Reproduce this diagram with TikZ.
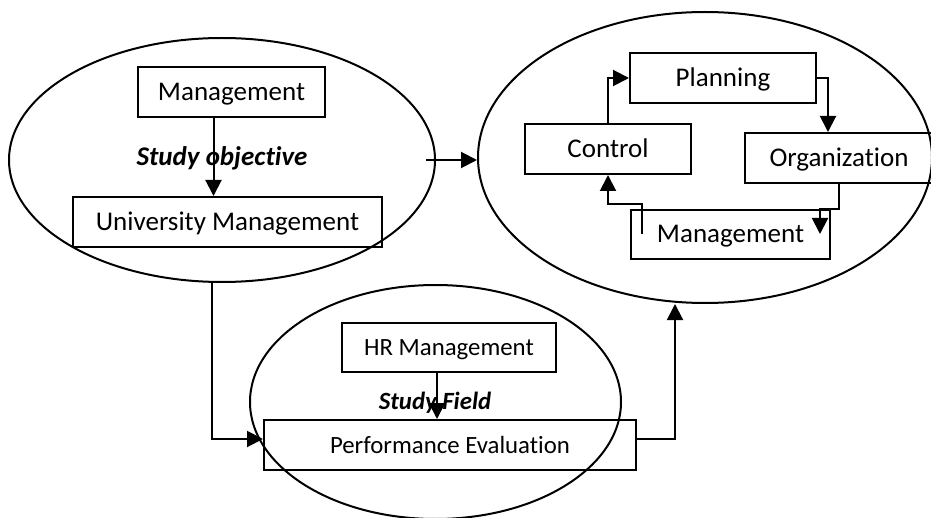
\documentclass[tikz,border=0pt]{standalone}
\usepackage{fontspec}
\setmainfont{Carlito}[Ligatures=NoCommon]
\usetikzlibrary{arrows.meta,shapes.geometric}

\tikzset{
  box/.style={draw, rectangle, inner sep=0pt, minimum height=25pt, text height=0.84em, text depth=0pt},
  area/.style={draw, ellipse, inner sep=0pt},
  tag/.style={font=\fontsize{13.5}{16}\selectfont\bfseries\itshape},
  lower/.style={font=\fontsize{12.4}{15}\selectfont},
  lowertag/.style={font=\fontsize{12.4}{15}\selectfont\bfseries\itshape}
}

\begin{document}
\begin{tikzpicture}[x=0.5pt, y=-0.5pt, line width=1pt, >={Triangle[length=8pt,width=8pt]}, font=\fontsize{13.5}{16}\selectfont]
\useasboundingbox (0,0) rectangle (931,518);

\node[area, minimum width=213pt, minimum height=122pt] (objective) at (222,160) {};
\node[area, minimum width=227pt, minimum height=145.5pt] (functions) at (705,157.5) {};
\node[area, minimum width=185.5pt, minimum height=117pt] (field) at (435.5,402) {};

\node[box, minimum width=93.5pt] (management) at (231.5,92) {Management};
\node[box, minimum width=154.5pt] (university) at (227.5,222) {University Management};
\node[tag] (objtag) at (222,158) {Study objective};

\node[box, minimum width=93pt] (planning) at (723,78) {Planning};
\node[box, minimum width=83pt] (control) at (608,149) {Control};
\node[box, minimum width=94pt] (organization) at (839,158) {Organization};
\node[box, minimum width=99.5pt, minimum height=24.5pt] (manage) at (730.5,234.5) {Management};

\node[box, lower, minimum width=107pt, minimum height=24.5pt] (hr) at (449,347.5) {HR Management};
\node[box, lower, minimum width=186pt] (evaluation) at (450,445) {Performance Evaluation};
\node[lowertag] (fieldtag) at (435,403) {Study Field};

\draw[->] ([xshift=-9pt]management.south) -- ([xshift=-9pt]management.south |- university.north);
\draw[->] ([xshift=-5pt]objective.east) -- (objective.east -| functions.west);

\draw[->] (control.north) |- (planning.west);
\draw[->] (planning.east) -| ([xshift=-5.5pt]organization.north);
\draw[->] (organization.south) |- ([xshift=-5.5pt]manage.north east) -- ++(0,25);
\draw[->] ([xshift=6pt]manage.west) -- ++(0,-30) -| (control.south);

\draw[->] ([xshift=-5pt]objective.south) |- ([yshift=3pt]evaluation.west);
\draw[->] ([xshift=-6pt]hr.south) -- ([xshift=-6pt]hr.south |- evaluation.north);
\draw[->] ([yshift=3pt]evaluation.east) -| ([xshift=-15pt]functions.south);

\end{tikzpicture}
\end{document}
